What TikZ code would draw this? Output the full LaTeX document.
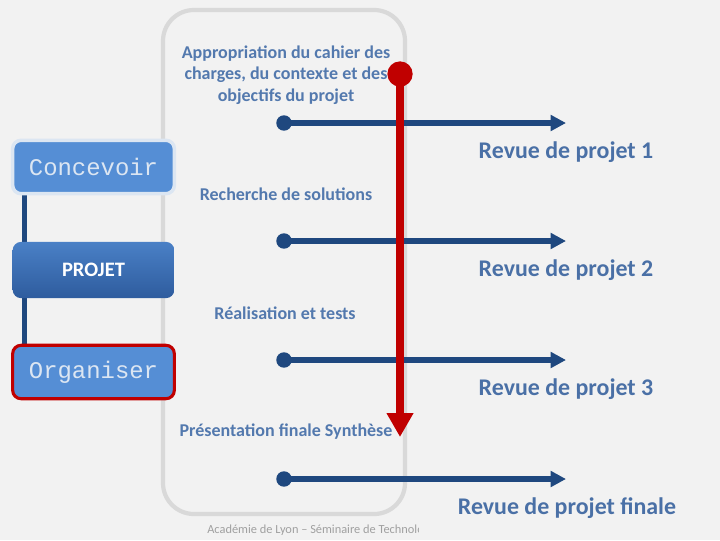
\documentclass[tikz,border=0pt]{standalone}
\usepackage{fontspec}
\setmainfont{Carlito}
\setmonofont{Liberation Mono}
\usetikzlibrary{arrows.meta}
\definecolor{bg}{HTML}{F2F2F2}
\definecolor{frame}{HTML}{D9D9D9}
\definecolor{navy}{HTML}{1F487F}
\definecolor{lbl}{HTML}{5379AE}
\definecolor{revue}{HTML}{4A70A6}
\definecolor{boxblue}{HTML}{558ED5}
\definecolor{boxtext}{HTML}{DCE6F2}
\definecolor{redline}{HTML}{C00000}
\definecolor{projtop}{HTML}{4A80C6}
\definecolor{projbot}{HTML}{2E5C9E}
\definecolor{foot}{HTML}{A0A0A0}
\tikzset{
  lbltext/.style={text=lbl, font=\fontsize{12.8}{15.2}\selectfont\bfseries, align=center},
  revuetext/.style={text=revue, font=\fontsize{17}{19}\selectfont\bfseries},
  milestone/.style={draw=navy, line width=3.6pt, -{Triangle[length=11pt,width=11pt]}},
  startdot/.style={circle, fill=navy, inner sep=0pt, minimum size=11pt},
  sidebox/.style={rounded corners=6pt, minimum width=115pt, minimum height=38pt, inner sep=0pt},
}
\begin{document}
\begin{tikzpicture}[x=0.025cm,y=-0.025cm]
\useasboundingbox (0,0) rectangle (720,540);
\fill[bg] (0,0) rectangle (720,540);
% frame
\draw[frame, line width=3pt, rounded corners=22pt] (163,10) rectangle (405,514);
% left connector
\draw[navy, line width=3.6pt] (24.5,190) -- (24.5,350);
% side boxes
\node[sidebox, fill=boxblue, draw=boxtext, line width=2.5pt, text=boxtext, font=\fontsize{17}{19}\selectfont\ttfamily] (conc) at (93.5,167) {Concevoir};
\node[sidebox, top color=projtop, bottom color=projbot, text=white, font=\fontsize{14.6}{16}\selectfont\bfseries, minimum height=40pt] (proj) at (93.5,270) {PROJET};
\node[sidebox, fill=boxblue, draw=redline, line width=2.2pt, text=boxtext, font=\fontsize{17}{19}\selectfont\ttfamily] (orga) at (93.5,372) {Organiser};
% milestones
\foreach \i/\y in {1/123,2/241,3/360,4/479}{
  \node[startdot] (s\i) at (284,\y) {};
  \coordinate (e\i) at (566,\y);
  \draw[milestone] (s\i.center) -- (e\i);
}
% labels
\node[lbltext] (l1) at (286,75) {Appropriation du cahier des\\charges, du contexte et des\\objectifs du projet};
\node[lbltext] (l2) at (286,194) {Recherche de solutions};
\node[lbltext] (l3) at (285,313) {Réalisation et tests};
\node[lbltext] (l4) at (286,432) {Présentation finale Synthèse};
% revue labels
\node[revuetext] (r1) at (566,152) {Revue de projet 1};
\node[revuetext] (r2) at (566,270) {Revue de projet 2};
\node[revuetext] (r3) at (566,389) {Revue de projet 3};
\node[revuetext] (r4) at (567,508) {Revue de projet finale};
% red time arrow
\node[circle, fill=redline, inner sep=0pt, minimum size=18pt] (rs) at (400,74) {};
\coordinate (re) at (400,437);
\draw[redline, line width=5.5pt, -{Triangle[length=17pt,width=18pt]}] (rs.center) -- (re);
% footer
\begin{scope}
\clip (150,515) rectangle (418,540);
\node[anchor=west, text=foot, font=\fontsize{8.8}{10}\selectfont, inner sep=0pt] (ft) at (207,530) {Académie de Lyon – Séminaire de Technologie};
\end{scope}
\end{tikzpicture}
\end{document}
